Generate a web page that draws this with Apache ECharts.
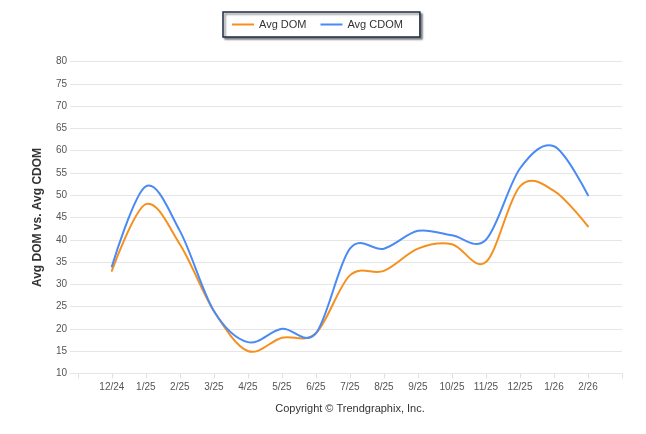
<!DOCTYPE html>
<html>
<head>
<meta charset="utf-8">
<script src="https://cdn.jsdelivr.net/npm/echarts@6/dist/echarts.min.js"></script>
<style>
html,body{margin:0;padding:0;background:#fff;}
#chart{width:646px;height:434px;}
</style>
</head>
<body>
<div id="chart"></div>
<script>
const categories = ['12/24','1/25','2/25','3/25','4/25','5/25','6/25','7/25','8/25','9/25','10/25','11/25','12/25','1/26','2/26'];
const avgDom  = [33, 48, 39, 24, 15, 18, 19, 32, 33, 38, 39, 35, 52, 51, 43];
const avgCdom = [34, 52, 42, 24, 17, 20, 19, 38, 38, 42, 41, 40, 56, 61, 50];
const yTicks = [10, 15, 20, 25, 30, 35, 40, 45, 50, 55, 60, 65, 70, 75, 80];

const FONT = 'Liberation Sans, Arial, sans-serif';
const chart = echarts.init(document.getElementById('chart'));
const tickVals = [];
for (let i = -1; i <= categories.length; i++) tickVals.push(i);
const labelVals = categories.map((c, i) => i);

// Catmull-Rom style spline through the points, positioned via the chart's own scales
function splineRenderer(values, color) {
  return function (params, api) {
    if (params.dataIndex !== 0) return null;
    const pts = values.map((v, i) => api.coord([i, v]));
    const k = 1 / 6;
    const lc = [], rc = [];
    for (let i = 0; i < pts.length; i++) {
      const [px, py] = pts[i];
      if (i > 0 && i < pts.length - 1) {
        const dx = pts[i + 1][0] - pts[i - 1][0];
        const dy = pts[i + 1][1] - pts[i - 1][1];
        lc[i] = [px - dx * k, py - dy * k];
        rc[i] = [px + dx * k, py + dy * k];
      } else {
        lc[i] = [px, py];
        rc[i] = [px, py];
      }
    }
    let d = 'M' + pts[0][0] + ',' + pts[0][1];
    for (let i = 1; i < pts.length; i++) {
      d += 'C' + rc[i - 1][0] + ',' + rc[i - 1][1] + ',' + lc[i][0] + ',' + lc[i][1] + ',' + pts[i][0] + ',' + pts[i][1];
    }
    return {
      type: 'path',
      shape: { pathData: d },
      style: { fill: 'none', stroke: color, lineWidth: 2, lineJoin: 'round', lineCap: 'round' }
    };
  };
}

const ORANGE = '#f5901f';
const BLUE = '#4a8af4';

chart.setOption({
  animation: false,
  textStyle: { fontFamily: FONT },
  legend: {
    top: 12,
    left: 223,
    padding: [7, 17, 7, 9],
    icon: 'rect',
    itemWidth: 22,
    itemHeight: 2,
    itemGap: 14,
    borderColor: '#1c2b4a',
    borderWidth: 1.5,
    borderRadius: 0,
    backgroundColor: '#fff',
    shadowColor: 'rgba(0,0,0,0.45)',
    shadowBlur: 2,
    shadowOffsetX: 2,
    shadowOffsetY: 2,
    textStyle: { fontSize: 11, color: '#333', fontFamily: FONT },
    data: ['Avg DOM', 'Avg CDOM']
  },
  grid: { left: 70, right: 24, top: 61.7, bottom: 60.7, containLabel: false },
  xAxis: {
    type: 'value',
    min: -1.23,
    max: categories.length,
    axisLine: { show: true, lineStyle: { color: '#e6e6e6', width: 1 } },
    axisTick: { show: true, customValues: tickVals, length: 5, lineStyle: { color: '#e0e0e0' } },
    axisLabel: {
      customValues: labelVals,
      formatter: v => categories[Math.round(v)] || '',
      color: '#555',
      fontSize: 10,
      margin: 9,
      fontFamily: FONT
    },
    splitLine: { show: false }
  },
  yAxis: {
    type: 'value',
    min: yTicks[0],
    max: yTicks[yTicks.length - 1],
    interval: 5,
    name: 'Avg DOM vs. Avg CDOM',
    nameLocation: 'middle',
    nameGap: 26,
    nameTextStyle: { fontSize: 12, fontWeight: 'bold', color: '#333', fontFamily: FONT },
    axisLine: { show: false },
    axisTick: { show: false },
    axisLabel: { color: '#555', fontSize: 10, margin: 3, fontFamily: FONT },
    splitLine: { lineStyle: { color: '#e6e6e6', width: 1 } }
  },
  series: [
    {
      name: 'Avg DOM',
      type: 'custom',
      color: ORANGE,
      itemStyle: { color: ORANGE },
      renderItem: splineRenderer(avgDom, ORANGE),
      data: avgDom.map((v, i) => [i, v])
    },
    {
      name: 'Avg CDOM',
      type: 'custom',
      color: BLUE,
      itemStyle: { color: BLUE },
      renderItem: splineRenderer(avgCdom, BLUE),
      data: avgCdom.map((v, i) => [i, v])
    }
  ],
  graphic: [{
    type: 'text',
    x: 350,
    y: 403,
    style: { text: 'Copyright \u00A9 Trendgraphix, Inc.', fontSize: 11, fill: '#333', fontFamily: FONT, textAlign: 'center' }
  }]
});
</script>
</body>
</html>
